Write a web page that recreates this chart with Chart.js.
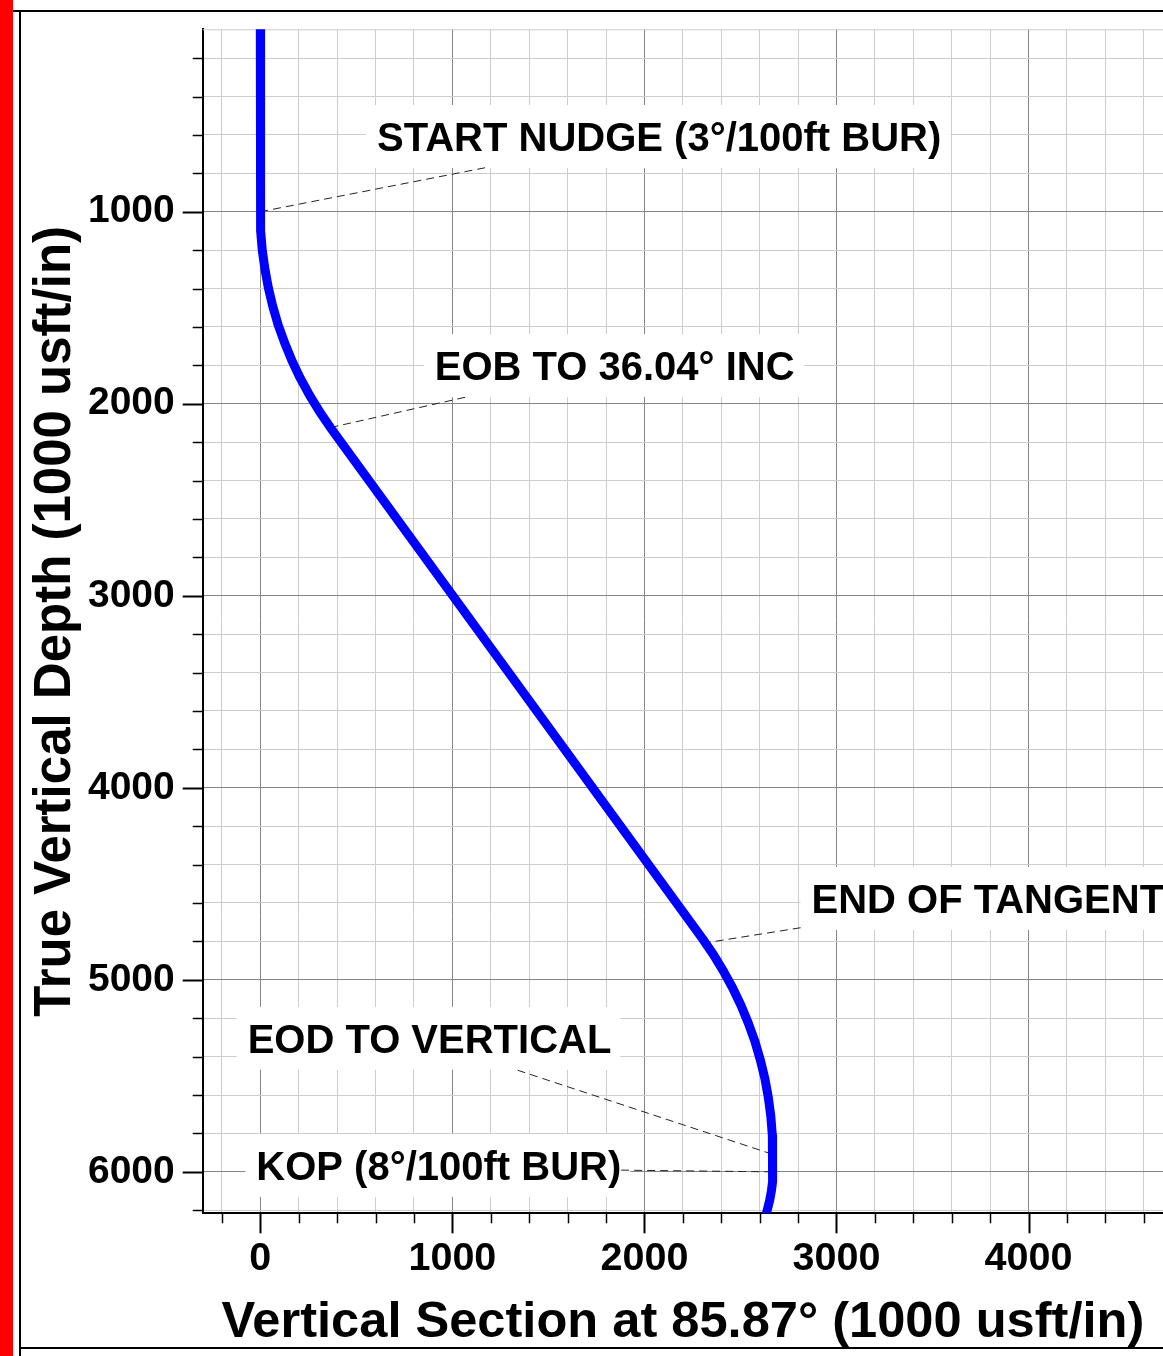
<!DOCTYPE html>
<html>
<head>
<meta charset="utf-8">
<script src="https://cdn.jsdelivr.net/npm/chart.js@4.4.1/dist/chart.umd.min.js"></script>
<style>
  html, body { margin: 0; padding: 0; background: #fff; }
  #page { position: relative; width: 1163px; height: 1356px; overflow: hidden; }
  #redbar { position: absolute; left: 0; top: 0; width: 13px; height: 1356px; background: #ff0000; }
  #frameTop { position: absolute; left: 13px; top: 10px; width: 1150px; height: 2px; background: #000; }
  #frameLeft { position: absolute; left: 19px; top: 10px; width: 2px; height: 1346px; background: #000; }
  #frameBottom { position: absolute; left: 19px; top: 1347px; width: 1144px; height: 2px; background: #000; }
  canvas { position: absolute; left: 0; top: 0; }
</style>
</head>
<body>
<div id="page">
  <div id="redbar"></div>
  <div id="frameTop"></div>
  <div id="frameLeft"></div>
  <div id="frameBottom"></div>
  <canvas id="wellPlot" width="1163" height="1356"></canvas>
</div>
<script>
// well path: vertical section (usft) vs true vertical depth (usft)
const vs  = [0, 0, 3, 10, 24, 42, 65, 93, 127, 165, 208, 256, 308, 365,
             2303, 2360, 2412, 2460, 2503, 2541, 2575, 2603, 2627, 2645, 2658, 2666, 2668,
             2668, 2666, 2661, 2652, 2640, 2637];
const tvd = [50, 1000, 1100, 1200, 1299, 1397, 1494, 1590, 1684, 1777, 1867, 1955, 2040, 2124,
             4787, 4870, 4956, 5044, 5134, 5226, 5320, 5416, 5514, 5612, 5711, 5811, 5911,
             6000, 6050, 6100, 6149, 6197, 6209];

// annotation labels (text left / baseline in data units), leader from curve point to label
const annoText  = ['START NUDGE (3°/100ft BUR)', 'EOB TO 36.04° INC', 'END OF TANGENT',
                   'EOD TO VERTICAL', 'KOP (8°/100ft BUR)'];
const annoTextX = [608, 908, 2870, -66, -21];
const annoTextY = [684, 1877, 4652, 5380, 6043];
const annoFromX = [0, 365, 2304, 2665, 2665];
const annoFromY = [1000, 2124, 4810, 5908, 6000];
const annoToX   = [1181, 1077, 2818, 1337, 1858];
const annoToY   = [769, 1964, 4728, 5470, 5991];

const gridStep = 200;
const labelStep = 1000;
const majorGrid = '#858585';
const minorGrid = '#cdcdcd';
const fontFamily = '"Liberation Sans", Arial, sans-serif';

const stepTicks = scale => {
  const t = [];
  for (let v = Math.ceil(scale.min / gridStep) * gridStep; v <= scale.max; v += gridStep) t.push({ value: v });
  scale.ticks = t;
};
const gridColor = c => (c.tick && c.tick.value % labelStep === 0) ? majorGrid : minorGrid;
const labelFor = v => (v % labelStep === 0 ? String(v) : '');

const annotations = {
  id: 'annotations',
  beforeDatasetsDraw(chart) {
    const { ctx, chartArea, scales: { x, y } } = chart;
    ctx.save();
    // light top edge of plot
    ctx.strokeStyle = minorGrid;
    ctx.lineWidth = 1;
    ctx.beginPath();
    ctx.moveTo(chartArea.left, chartArea.top + 0.5);
    ctx.lineTo(chartArea.right, chartArea.top + 0.5);
    ctx.stroke();

    ctx.font = 'bold 40px ' + fontFamily;
    annoText.forEach((txt, i) => {
      const tx = x.getPixelForValue(annoTextX[i]);
      const ty = y.getPixelForValue(annoTextY[i]);
      const w = ctx.measureText(txt).width;
      ctx.fillStyle = '#fff';
      ctx.fillRect(tx - 11, ty - 46, w + 20, 63);
    });

    ctx.strokeStyle = '#222';
    ctx.lineWidth = 1;
    ctx.setLineDash([8, 5]);
    annoText.forEach((txt, i) => {
      ctx.beginPath();
      ctx.moveTo(x.getPixelForValue(annoFromX[i]), y.getPixelForValue(annoFromY[i]));
      ctx.lineTo(x.getPixelForValue(annoToX[i]), y.getPixelForValue(annoToY[i]));
      ctx.stroke();
    });
    ctx.setLineDash([]);

    ctx.fillStyle = '#000';
    ctx.textAlign = 'left';
    ctx.textBaseline = 'alphabetic';
    annoText.forEach((txt, i) => {
      ctx.fillText(txt, x.getPixelForValue(annoTextX[i]), y.getPixelForValue(annoTextY[i]));
    });
    ctx.restore();
  }
};

const tickMarks = {
  id: 'tickMarks',
  afterDraw(chart) {
    const { ctx, chartArea, scales: { x, y } } = chart;
    ctx.save();
    ctx.strokeStyle = '#000';
    x.ticks.forEach(t => {
      const major = t.value % labelStep === 0;
      const px = Math.round(x.getPixelForValue(t.value)) + 0.5;
      ctx.lineWidth = major ? 2 : 1.5;
      ctx.beginPath();
      ctx.moveTo(px, chartArea.bottom);
      ctx.lineTo(px, chartArea.bottom + (major ? 20 : 10));
      ctx.stroke();
    });
    y.ticks.forEach(t => {
      const major = t.value % labelStep === 0;
      const py = Math.round(y.getPixelForValue(t.value)) + 0.5;
      ctx.lineWidth = major ? 2 : 1.5;
      ctx.beginPath();
      ctx.moveTo(chartArea.left, py);
      ctx.lineTo(chartArea.left - (major ? 20 : 10), py);
      ctx.stroke();
    });
    ctx.restore();
  }
};

new Chart(document.getElementById('wellPlot'), {
  type: 'scatter',
  data: {
    datasets: [{
      data: vs.map((v, i) => ({ x: v, y: tvd[i] })),
      showLine: true,
      borderColor: '#0000ff',
      borderWidth: 9,
      borderCapStyle: 'round',
      borderJoinStyle: 'round',
      pointRadius: 0,
      tension: 0
    }]
  },
  options: {
    responsive: false,
    animation: false,
    devicePixelRatio: 1,
    layout: { padding: { top: 29.3, left: 0, right: 0, bottom: 0 } },
    plugins: { legend: { display: false }, tooltip: { enabled: false } },
    scales: {
      x: {
        type: 'linear',
        min: -300,
        max: 4700,
        afterBuildTicks: stepTicks,
        afterFit: s => { s.height = 142.7; s.paddingLeft = 0; s.paddingRight = 0; },
        grid: { color: gridColor, lineWidth: 1, drawTicks: false },
        border: { color: '#000', width: 2 },
        ticks: {
          callback: labelFor,
          autoSkip: false,
          maxRotation: 0,
          padding: 22,
          color: '#000',
          font: { family: fontFamily, size: 39.5, weight: 'bold', lineHeight: 1.2 }
        },
        title: {
          display: true,
          text: 'Vertical Section at 85.87° (1000 usft/in)',
          color: '#000',
          padding: { top: 0, bottom: 3 },
          font: { family: fontFamily, size: 50.6, weight: 'bold', lineHeight: 1.2 }
        }
      },
      y: {
        type: 'linear',
        reverse: true,
        min: 50,
        max: 6216,
        afterBuildTicks: stepTicks,
        afterFit: s => { s.width = 202.7; s.paddingTop = 0; s.paddingBottom = 0; },
        grid: { color: gridColor, lineWidth: 1, drawTicks: false },
        border: { color: '#000', width: 2 },
        ticks: {
          callback: labelFor,
          autoSkip: false,
          padding: 28,
          color: '#000',
          font: { family: fontFamily, size: 39, weight: 'bold', lineHeight: 1.2 }
        },
        title: {
          display: true,
          text: 'True Vertical Depth (1000 usft/in)',
          color: '#000',
          padding: { top: 25, bottom: 0 },
          font: { family: fontFamily, size: 51, weight: 'bold', lineHeight: 1.2 }
        }
      }
    }
  },
  plugins: [annotations, tickMarks]
});
</script>
</body>
</html>
